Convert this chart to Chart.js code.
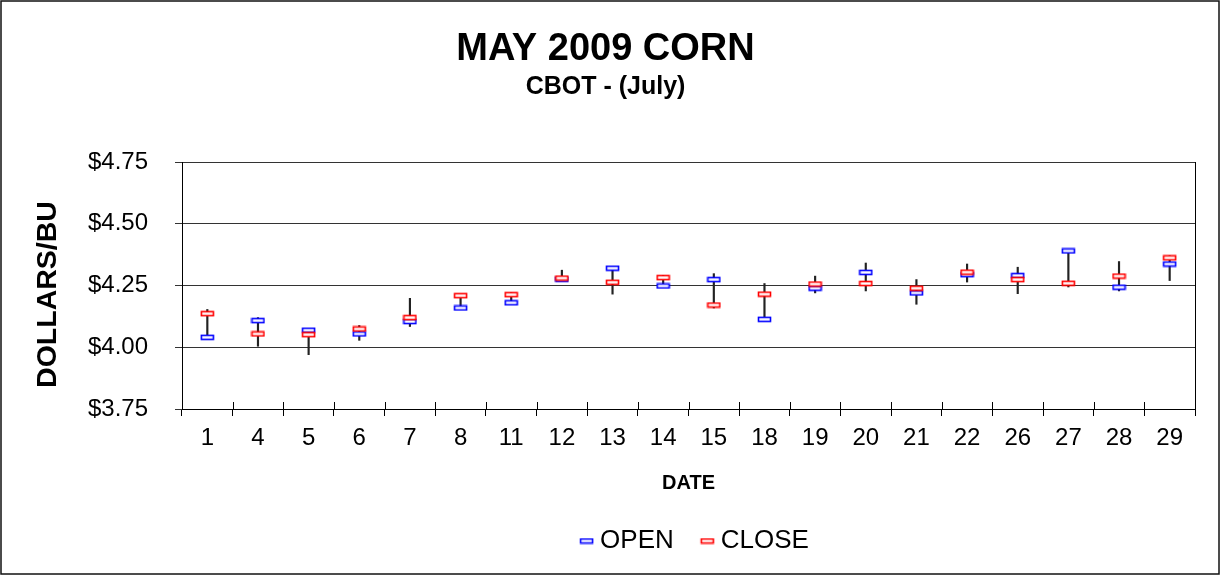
<!DOCTYPE html>
<html>
<head>
<meta charset="utf-8">
<script src="https://cdn.jsdelivr.net/npm/chart.js@4.4.1/dist/chart.umd.min.js"></script>
<style>
  html, body { margin: 0; padding: 0; background: #fff; }
  #wrap { width: 1221px; height: 576px; position: relative; }
</style>
</head>
<body>
<div id="wrap"><canvas id="c" width="1221" height="576"></canvas></div>
<script>
const dates = ['1','4','5','6','7','8','11','12','13','14','15','18','19','20','21','22','26','27','28','29'];
const openVals  = [4.040, 4.108, 4.069, 4.054, 4.104, 4.159, 4.180, 4.275, 4.320, 4.248, 4.274, 4.113, 4.239, 4.303, 4.220, 4.294, 4.290, 4.390, 4.243, 4.337];
const closeVals = [4.136, 4.054, 4.051, 4.074, 4.120, 4.209, 4.213, 4.280, 4.263, 4.282, 4.171, 4.215, 4.256, 4.258, 4.239, 4.304, 4.274, 4.259, 4.288, 4.362];
const highVals  = [4.153, 4.120, 4.076, 4.088, 4.198, 4.209, 4.220, 4.312, 4.320, 4.290, 4.298, 4.258, 4.288, 4.341, 4.274, 4.337, 4.324, 4.390, 4.347, 4.370];
const lowVals   = [4.040, 4.004, 3.970, 4.028, 4.084, 4.159, 4.180, 4.270, 4.215, 4.245, 4.159, 4.113, 4.220, 4.228, 4.174, 4.264, 4.217, 4.244, 4.228, 4.270];
const yTicks = [3.75, 4.00, 4.25, 4.50, 4.75];
const chartTitle = 'MAY 2009 CORN';
const chartSubtitle = 'CBOT - (July)';
const yTitle = 'DOLLARS/BU';

function makeMarker(color, padLeft) {
  const cv = document.createElement('canvas');
  cv.width = 15 + padLeft; cv.height = 7;
  const g = cv.getContext('2d');
  g.fillStyle = '#fff';
  g.fillRect(padLeft + 1, 1, 13, 5);
  g.strokeStyle = color;
  g.lineWidth = 1.6;
  g.strokeRect(padLeft + 1.5, 1.5, 12, 4);
  return cv;
}
const openMarker = makeMarker('#0000ff', 0);
const closeMarker = makeMarker('#ff0000', 0);
const openLegendMarker = makeMarker('#0000ff', 12);
const closeLegendMarker = makeMarker('#ff0000', 12);

Chart.defaults.font.family = "'Liberation Sans', Arial, sans-serif";
Chart.defaults.color = '#000';

const frame = {
  id: 'frame',
  beforeDraw(chart) {
    const ctx = chart.ctx;
    ctx.save();
    ctx.fillStyle = '#fff';
    ctx.fillRect(0, 0, chart.width, chart.height);
    ctx.restore();
  },
  afterLayout(chart) {
    if (chart.legend) {
      chart.legend.left = chart.chartArea.left + 6;
    }
    chart.boxes.forEach(b => {
      if (b.options && (b.options.text === chartTitle || b.options.text === chartSubtitle)) {
        b.left += 8; b.right += 8;
      }
    });
  },
  afterDraw(chart) {
    const ctx = chart.ctx, a = chart.chartArea, xs = chart.scales.x;
    ctx.save();
    ctx.strokeStyle = '#000';
    ctx.lineWidth = 1;
    ctx.beginPath();
    ctx.moveTo(Math.round(a.right) + 0.5, a.top);
    ctx.lineTo(Math.round(a.right) + 0.5, a.bottom);
    ctx.stroke();
    const n = dates.length;
    ctx.beginPath();
    for (let i = 0; i <= n; i++) {
      const x = Math.round(xs.left + i * (xs.right - xs.left) / n) + 0.5;
      ctx.moveTo(x, a.bottom - 7);
      ctx.lineTo(x, a.bottom);
    }
    ctx.stroke();
    ctx.translate(48, (a.top + a.bottom) / 2 + 9);
    ctx.rotate(-Math.PI / 2);
    ctx.fillStyle = '#000';
    ctx.font = "bold 28.5px 'Liberation Sans', Arial, sans-serif";
    ctx.textAlign = 'center';
    ctx.textBaseline = 'middle';
    ctx.fillText(yTitle, 0, 0);
    ctx.setTransform(1, 0, 0, 1, 0, 0);
    ctx.strokeStyle = '#111';
    ctx.lineWidth = 1.5;
    ctx.strokeRect(1, 1, 1218, 573);
    ctx.restore();
  }
};

new Chart(document.getElementById('c'), {
  type: 'bar',
  data: {
    labels: dates,
    datasets: [
      {
        type: 'bar',
        label: 'HIGH-LOW',
        data: highVals.map((h, i) => [lowVals[i], h]),
        backgroundColor: '#222',
        borderWidth: 0,
        barThickness: 1.5,
        order: 3
      },
      {
        type: 'line',
        label: 'OPEN',
        data: openVals,
        showLine: false,
        pointStyle: openMarker,
        borderColor: '#0000ff',
        backgroundColor: '#0000ff',
        order: 2
      },
      {
        type: 'line',
        label: 'CLOSE',
        data: closeVals,
        showLine: false,
        pointStyle: closeMarker,
        borderColor: '#ff0000',
        backgroundColor: '#ff0000',
        order: 1
      }
    ]
  },
  options: {
    responsive: false,
    animation: false,
    layout: { padding: { left: 0, right: 26, top: 0, bottom: 12 } },
    plugins: {
      title: {
        display: true,
        text: chartTitle,
        font: { size: 38, weight: 'bold' },
        color: '#000',
        padding: { top: 26.5, bottom: 0 }
      },
      subtitle: {
        display: true,
        text: chartSubtitle,
        font: { size: 25, weight: 'bold' },
        color: '#000',
        padding: { top: 0, bottom: 59.9 }
      },
      legend: {
        position: 'bottom',
        labels: {
          usePointStyle: true,
          pointStyleWidth: 13,
          font: { size: 26 },
          color: '#000',
          padding: 21,
          generateLabels: (chart) => {
            const items = Chart.defaults.plugins.legend.labels.generateLabels(chart);
            return items
              .filter(it => it.text !== 'HIGH-LOW')
              .sort((a, b) => a.datasetIndex - b.datasetIndex)
              .map(it => Object.assign(it, { pointStyle: it.datasetIndex === 1 ? openLegendMarker : closeLegendMarker }));
          }
        }
      },
      tooltip: { enabled: false }
    },
    scales: {
      x: {
        offset: true,
        grid: { display: true, drawOnChartArea: false, drawTicks: true, tickLength: 7, color: '#000', offset: true },
        border: { display: true, color: '#000', width: 1 },
        ticks: { font: { size: 24 }, color: '#000', padding: 7.6, maxRotation: 0, autoSkip: false },
        title: { display: true, text: 'DATE', font: { size: 20, weight: 'bold' }, color: '#000', padding: { top: 10, bottom: 12 } },
        afterFit: (s) => { s.height = 98; }
      },
      y: {
        min: 3.75,
        max: 4.75,
        afterBuildTicks: (s) => { s.ticks = yTicks.map(v => ({ value: v })); },
        grid: { color: '#333', lineWidth: 1, tickLength: 7 },
        border: { display: true, color: '#000', width: 1 },
        ticks: { font: { size: 24 }, color: '#000', padding: 27, callback: (v) => '$' + Number(v).toFixed(2) },
        title: { display: false },
        afterFit: (s) => { s.width = 182; }
      }
    }
  },
  plugins: [frame]
});
</script>
</body>
</html>
